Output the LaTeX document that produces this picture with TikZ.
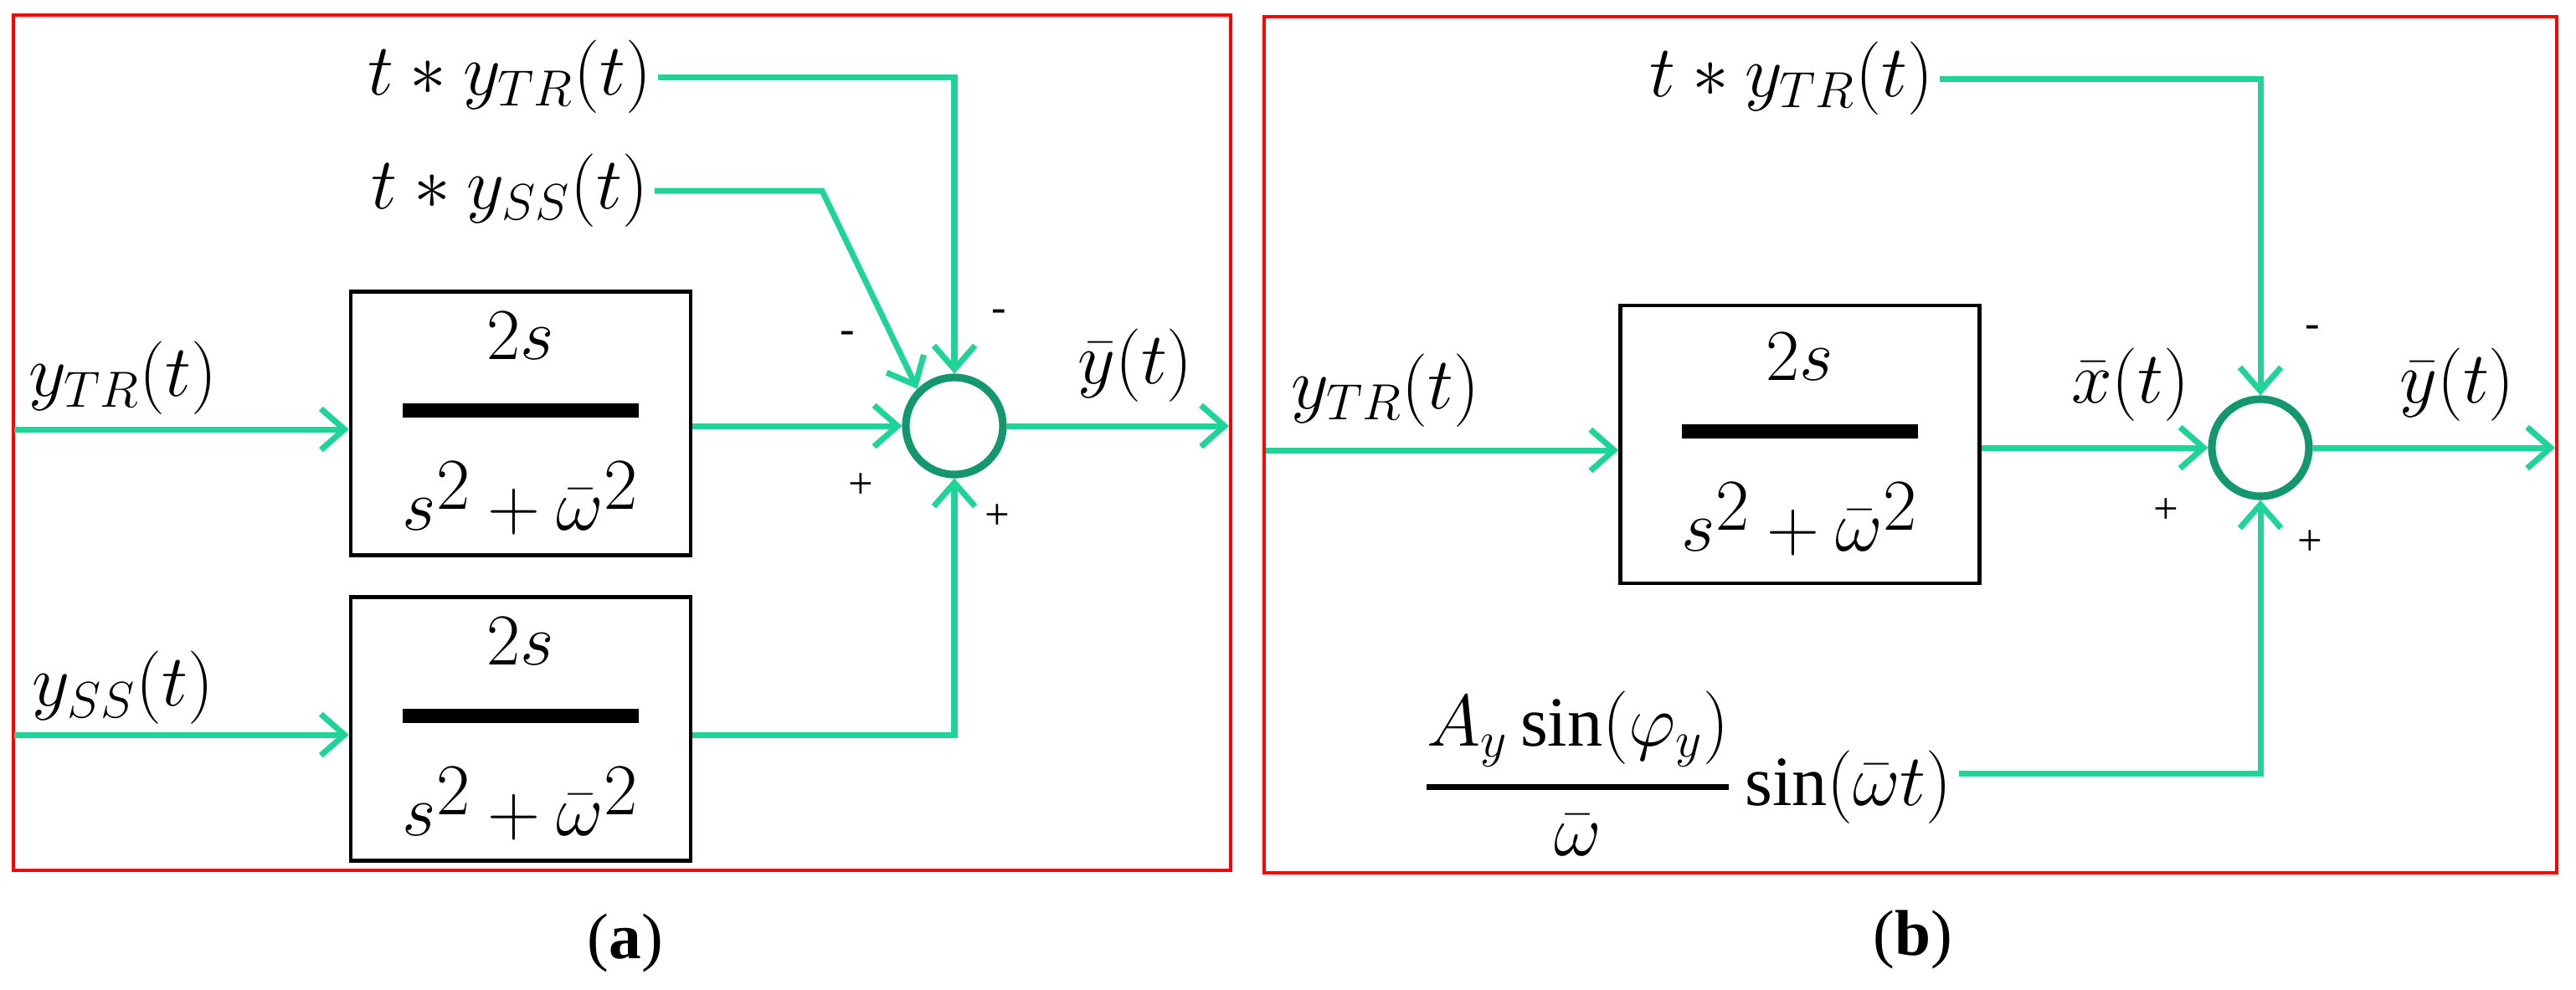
\documentclass[tikz,border=0pt]{standalone}
\usepackage{amsmath}
\usepackage{fontspec}
\setmainfont{Liberation Serif}
\usetikzlibrary{arrows.meta,calc,shapes.geometric}
\definecolor{sig}{RGB}{30,212,152}
\definecolor{sumc}{RGB}{20,150,110}
\tikzset{
%Define standard arrow tip
>={Straight Barb[length=8pt,width=14pt,line width=2pt]},
%Define styles for blocks and lines
signal/.style={sig, line width=2pt},
block/.style={draw, line width=1.3pt, minimum width=4.06cm, minimum height=3.15cm, inner sep=0pt, font=\fontsize{44}{48}\selectfont},
summer/.style={circle, draw=sumc, line width=2.6pt, minimum size=1.16cm},
lbl/.style={font=\fontsize{24}{28}\selectfont, inner sep=2pt},
sgn/.style={font=\fontsize{15}{17}\selectfont},
panel/.style={draw=red, line width=1pt},
}
\newcommand{\tf}{$\genfrac{}{}{5pt}{0}{2s}{s^{2}+\bar{\omega}^{2}}$}
\begin{document}
\begin{tikzpicture}[x=1cm,y=1cm]
    \useasboundingbox (0,0) rectangle (30.77,-11.82);
    % Panel (a)
    \draw[panel] (0.16,-0.18) rectangle (14.70,-10.40);
    \node[block] (fa) at (6.22,-5.06) {\tf};
    \node[block] (fb) at (6.22,-8.71) {\tf};
    \node[summer] (sa) at (11.40,-5.09) {};
    \node[lbl] (ttra) at (6.09,-0.92) {$t*y_{TR}(t)$};
    \node[lbl] (tssa) at (6.09,-2.28) {$t*y_{SS}(t)$};
    \node[lbl] (ytra) at (1.47,-4.52) {$y_{TR}(t)$};
    \node[lbl] (yssa) at (1.47,-8.22) {$y_{SS}(t)$};
    \node[lbl] (ybara) at (13.56,-4.37) {$\bar{y}(t)$};
    \coordinate (ina) at (0.17,-5.13);
    \coordinate (inb) at (0.17,-8.78);
    \coordinate (kinka) at (9.82,-2.28);
    \coordinate (outa) at (14.68,-5.09);
    \draw[signal,->] (ina) -- (fa.west |- ina);
    \draw[signal,->] (inb) -- (fb.west |- inb);
    \draw[signal,->] (fa.east |- sa) -- (sa.west);
    \draw[signal,->] (fb.east |- inb) -| (sa.south);
    \draw[signal,->] (ttra.east) -| (sa.north);
    \draw[signal,->] (tssa.east) -- (kinka) -- (sa.north west);
    \draw[signal,->] (sa.east) -- (outa);
    \node[sgn] at (10.12,-4.03) {-};
    \node[sgn] at (11.93,-3.77) {-};
    \node[sgn] at (10.28,-5.81) {+};
    \node[sgn] at (11.91,-6.18) {+};
    \node[font=\fontsize{22}{26}\selectfont] (capa) at (7.47,-11.27) {(\textbf{a})};
    % Panel (b)
    \draw[panel] (15.10,-0.20) rectangle (30.54,-10.43);
    \node[block, minimum width=4.29cm, minimum height=3.32cm] (fc) at (21.50,-5.31) {\tf};
    \node[summer] (sb) at (27.00,-5.35) {};
    \node[lbl] (ttrb) at (21.40,-0.94) {$t*y_{TR}(t)$};
    \node[lbl] (ytrb) at (16.55,-4.67) {$y_{TR}(t)$};
    \node[lbl] (xbarb) at (25.45,-4.60) {$\bar{x}(t)$};
    \node[lbl] (ybarb) at (29.35,-4.60) {$\bar{y}(t)$};
    \node[lbl] (sinb) at (20.16,-9.24)
        {$\genfrac{}{}{2pt}{0}{A_{y}\sin(\varphi_{y})}{\bar{\omega}}\sin(\bar{\omega}t)$};
    \coordinate (inc) at (15.12,-5.38);
    \coordinate (outb) at (30.52,-5.35);
    \draw[signal,->] (inc) -- (fc.west |- inc);
    \draw[signal,->] (fc.east |- sb) -- (sb.west);
    \draw[signal,->] (ttrb.east) -| (sb.north);
    \draw[signal,->] (sinb.east |- 0,-9.24) -| (sb.south);
    \draw[signal,->] (sb.east) -- (outb);
    \node[sgn] at (27.62,-3.96) {-};
    \node[sgn] at (25.87,-6.11) {+};
    \node[sgn] at (27.59,-6.49) {+};
    \node[font=\fontsize{22}{26}\selectfont] (capb) at (22.85,-11.23) {(\textbf{b})};
\end{tikzpicture}
\end{document}
